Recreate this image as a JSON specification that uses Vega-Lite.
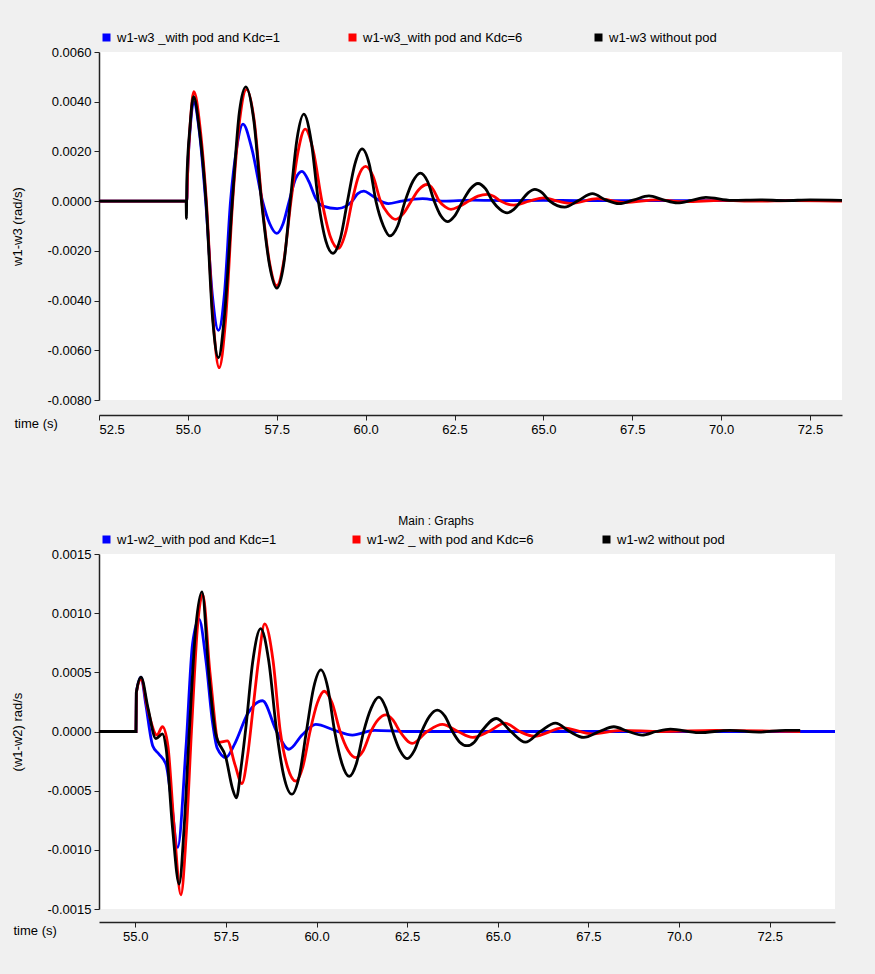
{
"$schema": "https://vega.github.io/schema/vega-lite/v6.json",
"background": "#f0f0f0",
"padding": {"left": 11, "top": 30, "right": 33, "bottom": 31},
"spacing": 79,
"config": {
  "view": {"fill": "white", "stroke": null},
  "font": "Liberation Sans",
  "axis": {"labelFont": "Liberation Sans", "labelFontSize": 13, "labelColor": "#000", "titleFont": "Liberation Sans", "titleFontSize": 13, "titleFontWeight": "normal", "titleColor": "#000", "domainColor": "#222", "domainWidth": 1.5, "tickColor": "#222", "tickSize": 5, "grid": false, "labelPadding": 3},
  "legend": {"orient": "top", "direction": "horizontal", "columns": 3, "gridAlign": "all", "columnPadding": 61, "symbolType": "square", "symbolSize": 9, "symbolStrokeWidth": 5, "labelFont": "Liberation Sans", "labelFontSize": 13, "labelColor": "#000", "labelLimit": 400, "padding": 1, "offset": 2, "labelOffset": 4},
  "title": {"font": "Liberation Sans", "fontSize": 12, "fontWeight": "normal", "color": "#000", "anchor": "middle", "offset": 4, "dx": -31}
},
"datasets": {
"top": [
{"s":"a","t":52.5,"v":0},{"s":"a","t":54.97,"v":0},{"s":"a","t":54.99,"v":0.001},{"s":"a","t":55.07,"v":0.003},{"s":"a","t":55.16,"v":0.004},{"s":"a","t":55.33,"v":0.0027},{"s":"a","t":55.5,"v":0},{"s":"a","t":55.69,"v":-0.0038},{"s":"a","t":55.86,"v":-0.0052},{"s":"a","t":56.03,"v":-0.0037},{"s":"a","t":56.2,"v":0},{"s":"a","t":56.38,"v":0.0022},{"s":"a","t":56.55,"v":0.0031},{"s":"a","t":56.8,"v":0.0021},{"s":"a","t":57.1,"v":0},{"s":"a","t":57.3,"v":-0.0009},{"s":"a","t":57.5,"v":-0.0013},{"s":"a","t":57.68,"v":-0.0009},{"s":"a","t":57.85,"v":0},{"s":"a","t":58.03,"v":0.0009},{"s":"a","t":58.21,"v":0.0012},{"s":"a","t":58.4,"v":0.0008},{"s":"a","t":58.6,"v":0.0001},{"s":"a","t":58.8,"v":-0.0002},{"s":"a","t":59.2,"v":-0.0003},{"s":"a","t":59.45,"v":-0.0002},{"s":"a","t":59.62,"v":0},{"s":"a","t":59.78,"v":0.0003},{"s":"a","t":59.95,"v":0.0004},{"s":"a","t":60.15,"v":0.00025},{"s":"a","t":60.3,"v":0.0001},{"s":"a","t":60.64,"v":-0.0001},{"s":"a","t":61.0,"v":0},{"s":"a","t":61.6,"v":0.0001},{"s":"a","t":62.2,"v":0},{"s":"a","t":63.0,"v":0.00004},{"s":"a","t":64,"v":0.00002},{"s":"a","t":65,"v":0.00003},{"s":"a","t":66,"v":0.00002},{"s":"a","t":68,"v":0.00002},{"s":"a","t":70,"v":0.00002},{"s":"a","t":73.4,"v":0.00002},
{"s":"b","t":52.5,"v":0},{"s":"b","t":54.97,"v":0},{"s":"b","t":54.99,"v":0.001},{"s":"b","t":55.07,"v":0.0032},{"s":"b","t":55.17,"v":0.0044},{"s":"b","t":55.34,"v":0.003},{"s":"b","t":55.52,"v":0},{"s":"b","t":55.71,"v":-0.0048},{"s":"b","t":55.88,"v":-0.0067},{"s":"b","t":56.06,"v":-0.0048},{"s":"b","t":56.26,"v":0},{"s":"b","t":56.46,"v":0.0033},{"s":"b","t":56.65,"v":0.0045},{"s":"b","t":56.87,"v":0.0032},{"s":"b","t":57.08,"v":0},{"s":"b","t":57.3,"v":-0.0025},{"s":"b","t":57.5,"v":-0.0034},{"s":"b","t":57.7,"v":-0.0024},{"s":"b","t":57.9,"v":0},{"s":"b","t":58.1,"v":0.002},{"s":"b","t":58.3,"v":0.0029},{"s":"b","t":58.53,"v":0.002},{"s":"b","t":58.77,"v":0},{"s":"b","t":59.0,"v":-0.0014},{"s":"b","t":59.24,"v":-0.0019},{"s":"b","t":59.43,"v":-0.0013},{"s":"b","t":59.62,"v":0},{"s":"b","t":59.8,"v":0.001},{"s":"b","t":60.0,"v":0.0014},{"s":"b","t":60.21,"v":0.001},{"s":"b","t":60.42,"v":0},{"s":"b","t":60.63,"v":-0.0005},{"s":"b","t":60.84,"v":-0.00073},{"s":"b","t":61.06,"v":-0.0005},{"s":"b","t":61.28,"v":0},{"s":"b","t":61.5,"v":0.00047},{"s":"b","t":61.73,"v":0.00067},{"s":"b","t":61.9,"v":0.00047},{"s":"b","t":62.07,"v":0},{"s":"b","t":62.24,"v":-0.00023},{"s":"b","t":62.4,"v":-0.00033},{"s":"b","t":62.65,"v":-0.0002},{"s":"b","t":62.9,"v":0},{"s":"b","t":63.16,"v":0.0002},{"s":"b","t":63.42,"v":0.00027},{"s":"b","t":63.6,"v":0.0002},{"s":"b","t":63.8,"v":0},{"s":"b","t":64.17,"v":-0.00016},{"s":"b","t":64.6,"v":0},{"s":"b","t":65.01,"v":0.00013},{"s":"b","t":65.4,"v":0},{"s":"b","t":65.8,"v":-0.00009},{"s":"b","t":66.52,"v":0.0001},{"s":"b","t":67.3,"v":-0.00005},{"s":"b","t":68.2,"v":0.00005},{"s":"b","t":69.0,"v":-0.00002},{"s":"b","t":70.0,"v":0.00003},{"s":"b","t":71.0,"v":0},{"s":"b","t":72.0,"v":0.00002},{"s":"b","t":73.4,"v":0},
{"s":"c","t":52.5,"v":0},{"s":"c","t":54.95,"v":0},{"s":"c","t":54.96,"v":-0.0007},{"s":"c","t":54.97,"v":0.0008},{"s":"c","t":55.06,"v":0.003},{"s":"c","t":55.16,"v":0.0042},{"s":"c","t":55.33,"v":0.0028},{"s":"c","t":55.51,"v":0},{"s":"c","t":55.7,"v":-0.0048},{"s":"c","t":55.86,"v":-0.0063},{"s":"c","t":56.03,"v":-0.0046},{"s":"c","t":56.25,"v":0},{"s":"c","t":56.45,"v":0.0036},{"s":"c","t":56.63,"v":0.0046},{"s":"c","t":56.85,"v":0.0033},{"s":"c","t":57.07,"v":0},{"s":"c","t":57.3,"v":-0.0026},{"s":"c","t":57.5,"v":-0.0035},{"s":"c","t":57.7,"v":-0.0025},{"s":"c","t":57.88,"v":0},{"s":"c","t":58.07,"v":0.0025},{"s":"c","t":58.26,"v":0.0035},{"s":"c","t":58.47,"v":0.0024},{"s":"c","t":58.67,"v":0},{"s":"c","t":58.88,"v":-0.0016},{"s":"c","t":59.08,"v":-0.0021},{"s":"c","t":59.29,"v":-0.0015},{"s":"c","t":59.49,"v":0},{"s":"c","t":59.7,"v":0.0015},{"s":"c","t":59.9,"v":0.0021},{"s":"c","t":60.1,"v":0.0015},{"s":"c","t":60.29,"v":0},{"s":"c","t":60.5,"v":-0.001},{"s":"c","t":60.68,"v":-0.0014},{"s":"c","t":60.9,"v":-0.001},{"s":"c","t":61.11,"v":0},{"s":"c","t":61.33,"v":0.0008},{"s":"c","t":61.54,"v":0.00113},{"s":"c","t":61.74,"v":0.0008},{"s":"c","t":61.93,"v":0},{"s":"c","t":62.12,"v":-0.0006},{"s":"c","t":62.3,"v":-0.00082},{"s":"c","t":62.5,"v":-0.0006},{"s":"c","t":62.73,"v":0},{"s":"c","t":62.95,"v":0.0005},{"s":"c","t":63.16,"v":0.00071},{"s":"c","t":63.37,"v":0.0005},{"s":"c","t":63.57,"v":0},{"s":"c","t":63.78,"v":-0.00033},{"s":"c","t":63.98,"v":-0.00047},{"s":"c","t":64.17,"v":-0.00033},{"s":"c","t":64.37,"v":0},{"s":"c","t":64.57,"v":0.00033},{"s":"c","t":64.76,"v":0.00047},{"s":"c","t":64.97,"v":0.00033},{"s":"c","t":65.18,"v":0},{"s":"c","t":65.6,"v":-0.00024},{"s":"c","t":65.99,"v":0.00003},{"s":"c","t":66.38,"v":0.0003},{"s":"c","t":66.75,"v":0.00005},{"s":"c","t":67.13,"v":-0.0001},{"s":"c","t":67.55,"v":0.00005},{"s":"c","t":67.97,"v":0.00021},{"s":"c","t":68.37,"v":0.00005},{"s":"c","t":68.77,"v":-0.00007},{"s":"c","t":69.17,"v":0.00003},{"s":"c","t":69.57,"v":0.00015},{"s":"c","t":70.3,"v":0.00003},{"s":"c","t":71.1,"v":0.00005},{"s":"c","t":71.8,"v":0.00002},{"s":"c","t":72.5,"v":0.00005},{"s":"c","t":73.4,"v":0.00003}
],
"bottom": [
{"s":"a","t":54.0,"v":0},{"s":"a","t":55.02,"v":0},{"s":"a","t":55.03,"v":0.00033},{"s":"a","t":55.16,"v":0.00046},{"s":"a","t":55.29,"v":0.00023},{"s":"a","t":55.48,"v":-0.00012},{"s":"a","t":55.65,"v":-0.00019},{"s":"a","t":55.85,"v":-0.00028},{"s":"a","t":55.98,"v":-0.00054},{"s":"a","t":56.17,"v":-0.00098},{"s":"a","t":56.4,"v":-0.00013},{"s":"a","t":56.58,"v":0.00074},{"s":"a","t":56.76,"v":0.00095},{"s":"a","t":56.95,"v":0.0006},{"s":"a","t":57.13,"v":0.00008},{"s":"a","t":57.26,"v":-0.00014},{"s":"a","t":57.5,"v":-0.00022},{"s":"a","t":57.75,"v":-0.0001},{"s":"a","t":58.1,"v":0.00015},{"s":"a","t":58.51,"v":0.00026},{"s":"a","t":58.9,"v":0},{"s":"a","t":59.24,"v":-0.00015},{"s":"a","t":59.6,"v":-0.00003},{"s":"a","t":59.98,"v":0.00006},{"s":"a","t":60.5,"v":0.00001},{"s":"a","t":60.99,"v":-0.00003},{"s":"a","t":61.6,"v":0.00001},{"s":"a","t":62.5,"v":0},{"s":"a","t":64,"v":0},{"s":"a","t":66,"v":0},{"s":"a","t":70,"v":0},{"s":"a","t":74.3,"v":0},
{"s":"b","t":54.0,"v":0},{"s":"b","t":55.02,"v":0},{"s":"b","t":55.03,"v":0.00033},{"s":"b","t":55.16,"v":0.00044},{"s":"b","t":55.35,"v":0.00018},{"s":"b","t":55.6,"v":-0.00003},{"s":"b","t":55.75,"v":0.00004},{"s":"b","t":55.9,"v":-0.00012},{"s":"b","t":56.07,"v":-0.0008},{"s":"b","t":56.26,"v":-0.00138},{"s":"b","t":56.4,"v":-0.0009},{"s":"b","t":56.55,"v":0},{"s":"b","t":56.72,"v":0.0009},{"s":"b","t":56.86,"v":0.00116},{"s":"b","t":57.06,"v":0.0005},{"s":"b","t":57.31,"v":-0.00009},{"s":"b","t":57.54,"v":-0.00008},{"s":"b","t":57.75,"v":-0.00028},{"s":"b","t":57.94,"v":-0.00044},{"s":"b","t":58.1,"v":-0.0002},{"s":"b","t":58.24,"v":0.00017},{"s":"b","t":58.4,"v":0.0006},{"s":"b","t":58.57,"v":0.00091},{"s":"b","t":58.8,"v":0.0006},{"s":"b","t":59.0,"v":0},{"s":"b","t":59.2,"v":-0.0003},{"s":"b","t":59.43,"v":-0.00042},{"s":"b","t":59.62,"v":-0.0003},{"s":"b","t":59.82,"v":0},{"s":"b","t":60.02,"v":0.00024},{"s":"b","t":60.21,"v":0.00034},{"s":"b","t":60.43,"v":0.00024},{"s":"b","t":60.65,"v":0},{"s":"b","t":60.87,"v":-0.00016},{"s":"b","t":61.08,"v":-0.00022},{"s":"b","t":61.29,"v":-0.00016},{"s":"b","t":61.5,"v":0},{"s":"b","t":61.7,"v":0.0001},{"s":"b","t":61.91,"v":0.00014},{"s":"b","t":62.1,"v":0.0001},{"s":"b","t":62.3,"v":0},{"s":"b","t":62.64,"v":-0.0001},{"s":"b","t":63.05,"v":0},{"s":"b","t":63.47,"v":0.00006},{"s":"b","t":63.9,"v":0},{"s":"b","t":64.3,"v":-0.00005},{"s":"b","t":64.75,"v":0},{"s":"b","t":65.2,"v":0.00007},{"s":"b","t":65.6,"v":0},{"s":"b","t":66.0,"v":-0.00004},{"s":"b","t":66.8,"v":0.00003},{"s":"b","t":67.6,"v":-0.00002},{"s":"b","t":68.4,"v":0.00001},{"s":"b","t":69.5,"v":0},{"s":"b","t":71.0,"v":0.00001},{"s":"b","t":73.34,"v":0},
{"s":"c","t":54.0,"v":0},{"s":"c","t":55.02,"v":0},{"s":"c","t":55.03,"v":0.00033},{"s":"c","t":55.16,"v":0.00046},{"s":"c","t":55.35,"v":0.0002},{"s":"c","t":55.57,"v":-0.00006},{"s":"c","t":55.75,"v":-0.00002},{"s":"c","t":55.85,"v":-0.00014},{"s":"c","t":56.03,"v":-0.00082},{"s":"c","t":56.21,"v":-0.00129},{"s":"c","t":56.35,"v":-0.0008},{"s":"c","t":56.49,"v":0},{"s":"c","t":56.67,"v":0.00088},{"s":"c","t":56.84,"v":0.00118},{"s":"c","t":57.04,"v":0.00045},{"s":"c","t":57.22,"v":-0.00002},{"s":"c","t":57.5,"v":-0.00022},{"s":"c","t":57.68,"v":-0.00048},{"s":"c","t":57.79,"v":-0.00056},{"s":"c","t":57.92,"v":-0.0003},{"s":"c","t":58.05,"v":0.00003},{"s":"c","t":58.24,"v":0.00059},{"s":"c","t":58.46,"v":0.00087},{"s":"c","t":58.68,"v":0.0006},{"s":"c","t":58.9,"v":0},{"s":"c","t":59.1,"v":-0.00038},{"s":"c","t":59.32,"v":-0.00053},{"s":"c","t":59.52,"v":-0.00038},{"s":"c","t":59.72,"v":0},{"s":"c","t":59.92,"v":0.00037},{"s":"c","t":60.12,"v":0.00052},{"s":"c","t":60.31,"v":0.00037},{"s":"c","t":60.5,"v":0},{"s":"c","t":60.7,"v":-0.00027},{"s":"c","t":60.9,"v":-0.00038},{"s":"c","t":61.1,"v":-0.00027},{"s":"c","t":61.3,"v":0},{"s":"c","t":61.51,"v":0.0002},{"s":"c","t":61.72,"v":0.00029},{"s":"c","t":61.91,"v":0.0002},{"s":"c","t":62.1,"v":0},{"s":"c","t":62.3,"v":-0.00016},{"s":"c","t":62.5,"v":-0.00023},{"s":"c","t":62.7,"v":-0.00016},{"s":"c","t":62.9,"v":0},{"s":"c","t":63.12,"v":0.00013},{"s":"c","t":63.33,"v":0.00018},{"s":"c","t":63.54,"v":0.00013},{"s":"c","t":63.75,"v":0},{"s":"c","t":63.95,"v":-0.00009},{"s":"c","t":64.15,"v":-0.00012},{"s":"c","t":64.35,"v":-0.00009},{"s":"c","t":64.55,"v":0},{"s":"c","t":64.96,"v":0.00011},{"s":"c","t":65.36,"v":0},{"s":"c","t":65.76,"v":-0.00009},{"s":"c","t":66.17,"v":0},{"s":"c","t":66.59,"v":0.00007},{"s":"c","t":66.98,"v":0},{"s":"c","t":67.37,"v":-0.00005},{"s":"c","t":67.8,"v":0},{"s":"c","t":68.2,"v":0.00004},{"s":"c","t":68.6,"v":0},{"s":"c","t":68.98,"v":-0.00003},{"s":"c","t":69.37,"v":0},{"s":"c","t":69.76,"v":0.00002},{"s":"c","t":70.54,"v":-0.00001},{"s":"c","t":71.4,"v":0.00001},{"s":"c","t":72.2,"v":-0.000005},{"s":"c","t":72.93,"v":0.00001},{"s":"c","t":73.34,"v":0.00001}
]
},
"vconcat": [
{
  "width": 743, "height": 348,
  "data": {"name": "top"},
  "mark": {"type": "line", "strokeWidth": 2.8, "interpolate": "monotone", "clip": true},
  "encoding": {
    "x": {"field": "t", "type": "quantitative", "scale": {"domain": [52.5, 73.4], "nice": false, "zero": false},
          "axis": {"values": [52.5, 55, 57.5, 60, 62.5, 65, 67.5, 70, 72.5], "format": ".1f", "offset": 15, "title": "time (s)", "titleX": -85, "titleY": 8, "titleAlign": "left", "titleBaseline": "middle", "titleAngle": 0}},
    "y": {"field": "v", "type": "quantitative", "scale": {"domain": [-0.008, 0.006], "nice": false},
          "axis": {"values": [-0.008, -0.006, -0.004, -0.002, 0, 0.002, 0.004, 0.006], "labelExpr": "replace(format(datum.value, '.4f'), '\u2212', '-')", "title": "w1-w3 (rad/s)", "titlePadding": 22}},
    "color": {"field": "s", "type": "nominal",
              "scale": {"domain": ["a", "b", "c"], "range": ["#0000ff", "#ff0000", "#000000"]},
              "legend": {"title": null, "labelExpr": "datum.label == 'a' ? 'w1-w3 _with pod and Kdc=1' : datum.label == 'b' ? 'w1-w3_with pod and Kdc=6' : 'w1-w3 without pod'"}}
  }
},
{
  "width": 736, "height": 355,
  "title": "Main : Graphs",
  "data": {"name": "bottom"},
  "mark": {"type": "line", "strokeWidth": 2.8, "interpolate": "monotone", "clip": true},
  "encoding": {
    "x": {"field": "t", "type": "quantitative", "scale": {"domain": [54.0, 74.3], "nice": false, "zero": false},
          "axis": {"values": [55, 57.5, 60, 62.5, 65, 67.5, 70, 72.5], "format": ".1f", "offset": 13, "title": "time (s)", "titleX": -86, "titleY": 8, "titleAlign": "left", "titleBaseline": "middle", "titleAngle": 0}},
    "y": {"field": "v", "type": "quantitative", "scale": {"domain": [-0.0015, 0.0015], "nice": false},
          "axis": {"values": [-0.0015, -0.001, -0.0005, 0, 0.0005, 0.001, 0.0015], "labelExpr": "replace(format(datum.value, '.4f'), '\u2212', '-')", "title": "(w1-w2) rad/s", "titlePadding": 22}},
    "color": {"field": "s", "type": "nominal",
              "scale": {"domain": ["a", "b", "c"], "range": ["#0000ff", "#ff0000", "#000000"]},
              "legend": {"title": null, "labelExpr": "datum.label == 'a' ? 'w1-w2_with pod and Kdc=1' : datum.label == 'b' ? 'w1-w2 _ with pod and Kdc=6' : 'w1-w2 without pod'"}}
  }
}
],
"resolve": {"scale": {"color": "independent"}, "legend": {"color": "independent"}}
}
